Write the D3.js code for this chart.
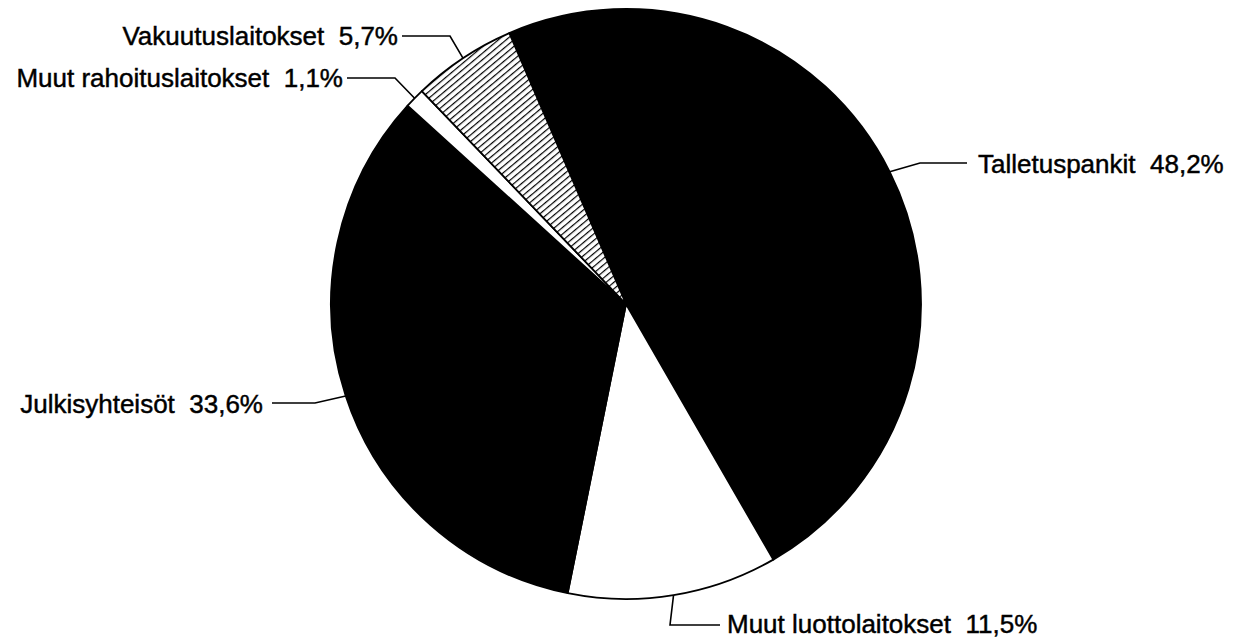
<!DOCTYPE html>
<html>
<head>
<meta charset="utf-8">
<script src="https://cdn.jsdelivr.net/npm/d3@7"></script>
<style>
  html, body { margin: 0; padding: 0; background: #fff; }
  svg { display: block; }
  text { font-family: "Liberation Sans", Arial, Helvetica, sans-serif; font-size: 26px; fill: #000; stroke: #000; stroke-width: 0.45px; white-space: pre; }
</style>
</head>
<body>
<div id="chart"></div>
<script>
// data
const categories = ["Talletuspankit", "Muut luottolaitokset", "Julkisyhteisöt", "Muut rahoituslaitokset", "Vakuutuslaitokset"];
const shares = [48.2, 11.5, 33.6, 1.1, 5.7];
const fills = ["#000", "#fff", "#000", "#fff", "url(#hatch)"];

// label placement (elbow of the leader, end of the leader, text anchor)
const labelLayout = [
  { ex: 920, ey: 163, lx: 967, tx: 978, ty: 173, anchor: "start" },
  { ex: 670, ey: 625, lx: 720, tx: 727, ty: 633, anchor: "start" },
  { ex: 315, ey: 403, lx: 272, tx: 263, ty: 413, anchor: "end" },
  { ex: 395, ey: 78,  lx: 347, tx: 343, ty: 87,  anchor: "end" },
  { ex: 450, ey: 36,  lx: 402, tx: 398, ty: 45,  anchor: "end" }
];

const width = 1245, height = 642;
const cx = 626, cy = 304, radius = 295;

const fi = d3.formatLocale({ decimal: ",", thousands: " ", grouping: [3], currency: ["", ""] });
const pct = fi.format(".1f");

const data = categories.map((c, i) => ({ name: c, value: shares[i], fill: fills[i], layout: labelLayout[i] }));

const start = -23.3 * Math.PI / 180;
const pie = d3.pie().sort(null).value(d => d.value)
  .startAngle(start).endAngle(start + 2 * Math.PI);
const arc = d3.arc().innerRadius(0).outerRadius(radius);

const svg = d3.select("#chart").append("svg")
  .attr("width", width).attr("height", height);

// diagonal hatching for the insurance slice
const pat = svg.append("defs").append("pattern")
  .attr("id", "hatch")
  .attr("patternUnits", "userSpaceOnUse")
  .attr("width", 5).attr("height", 5)
  .attr("patternTransform", "rotate(50)");
pat.append("rect").attr("width", 5).attr("height", 5).attr("fill", "#fff");
pat.append("line").attr("x1", 0).attr("y1", 0).attr("x2", 0).attr("y2", 5)
  .attr("stroke", "#000").attr("stroke-width", 2.4);

const g = svg.append("g").attr("transform", `translate(${cx},${cy})`);
const arcs = pie(data);

g.selectAll("path.slice")
  .data(arcs)
  .enter().append("path")
  .attr("class", "slice")
  .attr("d", arc)
  .attr("fill", d => d.data.fill)
  .attr("stroke", "#000")
  .attr("stroke-width", 1.8)
  .attr("stroke-linejoin", "round");

// leader lines
svg.selectAll("polyline.leader")
  .data(arcs)
  .enter().append("polyline")
  .attr("class", "leader")
  .attr("fill", "none")
  .attr("stroke", "#000")
  .attr("stroke-width", 1.6)
  .attr("points", d => {
    const a = (d.startAngle + d.endAngle) / 2;
    const px = cx + radius * Math.sin(a), py = cy - radius * Math.cos(a);
    const L = d.data.layout;
    return [[px, py], [L.ex, L.ey], [L.lx, L.ey]].map(p => p.join(",")).join(" ");
  });

// labels
svg.selectAll("text.lbl")
  .data(arcs)
  .enter().append("text")
  .attr("class", "lbl")
  .attr("x", d => d.data.layout.tx)
  .attr("y", d => d.data.layout.ty)
  .attr("text-anchor", d => d.data.layout.anchor)
  .text(d => d.data.name + "  " + pct(d.data.value) + "%");
</script>
</body>
</html>
